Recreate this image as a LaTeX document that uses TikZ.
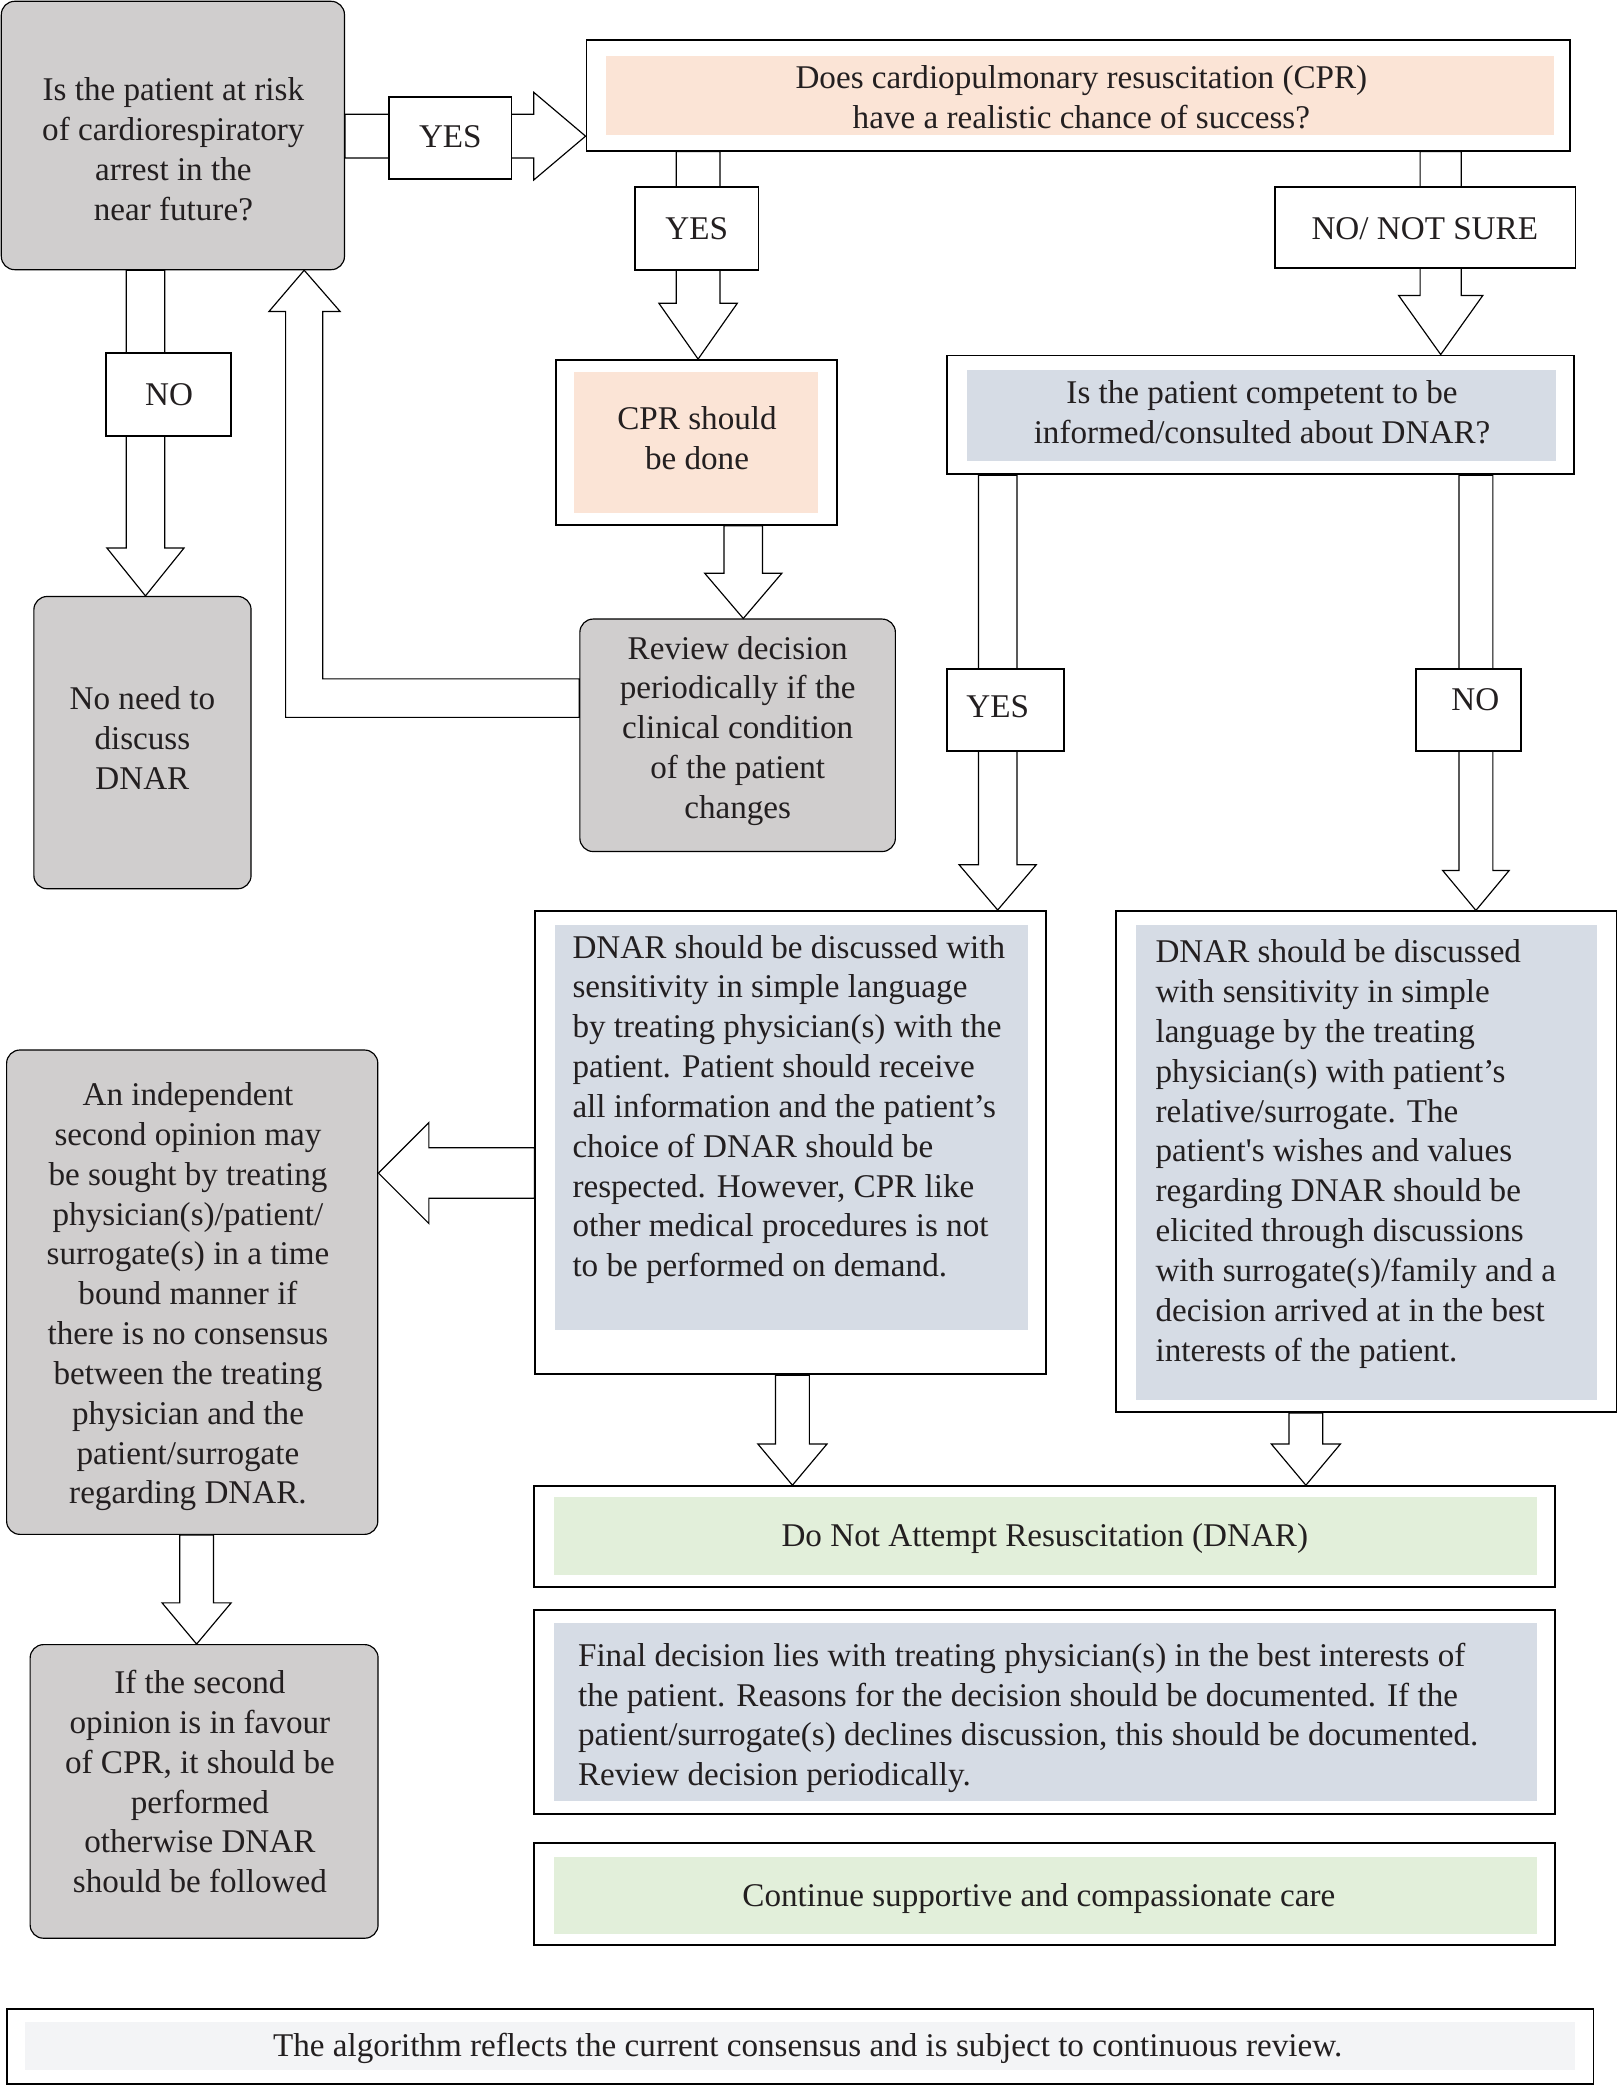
\documentclass[tikz,border=0pt]{standalone}
\usepackage{fontspec}
\setmainfont{Liberation Serif}
\newfontfamily\nomap{Liberation Serif}
\usetikzlibrary{calc,fit}
\definecolor{gfill}{HTML}{D0CECE}
\definecolor{peach}{HTML}{FBE4D6}
\definecolor{bluegray}{HTML}{D6DCE5}
\definecolor{lgreen}{HTML}{E2EFDA}
\definecolor{lnote}{HTML}{F3F4F6}
\definecolor{ink}{HTML}{231F20}
% vertical block arrow: x, from, to, shaft half width, head half width, head length
\newcommand\vblk[6]{%
  \draw[blk] (#1-#4,0 |- #2) -- ($(#1-#4,0 |- #3)+(0,-#6)$) -- ($(#1-#5,0 |- #3)+(0,-#6)$) -- (#1,0 |- #3) -- ($(#1+#5,0 |- #3)+(0,-#6)$) -- ($(#1+#4,0 |- #3)+(0,-#6)$) -- (#1+#4,0 |- #2) -- cycle;}
% horizontal block arrow: y, from, to, shaft half width, head half width, signed head offset
\newcommand\hblk[6]{%
  \draw[blk] (#2 |- 0,#1-#4) -- ($(#3 |- 0,#1-#4)+(#6,0)$) -- ($(#3 |- 0,#1-#5)+(#6,0)$) -- (#3 |- 0,#1) -- ($(#3 |- 0,#1+#5)+(#6,0)$) -- ($(#3 |- 0,#1+#4)+(#6,0)$) -- (#2 |- 0,#1+#4) -- cycle;}
\begin{document}
\begin{tikzpicture}[x=0.02cm,y=-0.02cm,
  frame/.style={draw=black, line width=0.8pt, fill=white, inner sep=0pt},
  gbox/.style={draw=black, line width=0.5pt, fill=gfill, rounded corners=0.2cm, inner sep=0pt},
  infill/.style={inner sep=0pt, draw=none},
  lbl/.style={draw=black, line width=0.8pt, fill=white, inner sep=0pt},
  blk/.style={draw=black, line width=0.5pt, fill=white, line join=miter},
  txt/.style={font=\fontsize{14.2pt}{17.07pt}\selectfont, text=ink, inner sep=0pt, align=center,
    execute at begin node=\strut, execute at end node=\strut},
  ltxt/.style={txt, align=left, anchor=west}]
\useasboundingbox (0,0) rectangle (1218,1569.5);

% ---- main boxes ----
\node[gbox, fit={(1,1) (259.3,203)}] (q1) {};
\node[frame, fit={(441.5,30) (1182,113.4)}] (cpr) {};
\node[infill, fill=peach, fit={(456,42) (1170,101.6)}] (cprin) {};
\node[frame, fit={(418.5,271) (630,395)}] (cprdone) {};
\node[infill, fill=peach, fit={(432,280) (616,386)}] (cprdonein) {};
\node[frame, fit={(713,267.6) (1185,357)}] (comp) {};
\node[infill, fill=bluegray, fit={(728,278.5) (1171,347)}] (compin) {};
\node[gbox, fit={(25.5,449) (189,669)}] (noneed) {};
\node[gbox, fit={(436.5,466) (674,641)}] (review) {};
\node[frame, fit={(403,685.7) (787.5,1034.5)}] (dnarL) {};
\node[infill, fill=bluegray, fit={(418,696.2) (773.5,1000.8)}] (dnarLin) {};
\node[frame, fit={(840,686) (1216.8,1063)}] (dnarR) {};
\node[infill, fill=bluegray, fit={(855,696.5) (1202,1053.5)}] (dnarRin) {};
\node[gbox, fit={(5,790.4) (284.4,1155)}] (opinion) {};
\node[gbox, fit={(22.7,1238) (284.6,1459)}] (iffav) {};
\node[frame, fit={(402,1118.7) (1170.7,1194.8)}] (dnar) {};
\node[infill, fill=lgreen, fit={(416.7,1127) (1157,1185.4)}] (dnarin) {};
\node[frame, fit={(402,1212) (1170.4,1365.2)}] (final) {};
\node[infill, fill=bluegray, fit={(416.7,1221.4) (1157,1355.8)}] (finalin) {};
\node[frame, fit={(402,1387) (1170.4,1464)}] (cont) {};
\node[infill, fill=lgreen, fit={(416.7,1397.7) (1157,1455.5)}] (contin) {};
\node[frame, fit={(5,1512) (1199.5,1568.5)}] (note) {};
\node[infill, fill=lnote, fit={(18.8,1522) (1185.7,1558.5)}] (notein) {};

% ---- block arrows ----
\hblk{102.5}{q1.east}{cpr.west}{16.5}{33}{-39}
\vblk{525.5}{cpr.south}{cprdone.north}{16.5}{29.5}{42}
\vblk{1084.5}{cpr.south}{comp.north}{15.5}{31.7}{44.5}
\vblk{559.5}{cprdone.south}{review.north}{14.5}{29}{34}
\vblk{109.5}{q1.south}{noneed.north}{14.5}{29}{36}
\vblk{751}{comp.south}{dnarL.north}{14.5}{29}{34}
\vblk{1111}{comp.south}{dnarR.north}{12.75}{25}{30}
\hblk{883}{dnarL.west}{opinion.east}{19}{38}{38}
\vblk{148}{opinion.south}{iffav.north}{12.7}{26}{31}
\vblk{596.5}{dnarL.south}{dnar.north}{12.75}{26}{31}
\vblk{983}{dnarR.south}{dnar.north}{12.75}{26}{31}
\draw[blk] (review.west |- 0,511) -- (243,511) -- ($(243,0 |- q1.south)+(0,31)$) -- ($(256,0 |- q1.south)+(0,31)$) -- (229,0 |- q1.south) -- ($(202.5,0 |- q1.south)+(0,31)$) -- ($(215,0 |- q1.south)+(0,31)$) -- (215,540) -- (review.west |- 0,540) -- cycle;

% ---- label boxes ----
\node[lbl, fit={(293,73) (385,134.5)}] (yes1) {};
\node[lbl, fit={(478,141) (571,203)}] (yes2) {};
\node[lbl, fit={(960,141) (1186,202)}] (nns) {};
\node[lbl, fit={(80,266) (174,328)}] (no1) {};
\node[lbl, fit={(713,503.6) (801,565)}] (yes3) {};
\node[lbl, fit={(1066,503.6) (1145,565)}] (no2) {};

% ---- texts ----
\node[txt] (yes1t) at (339,105) {YES};
\node[txt] (yes2t) at (524.5,174) {YES};
\node[txt] (nnst) at (1072.5,174) {NO/ NOT SURE};
\node[txt] (no1t) at (127.3,299) {NO};
\node[txt] (yes3t) at (751,534) {YES};
\node[txt] (no2t) at (1110.5,528.5) {NO};

\node[txt] (q1t) at (130.5,116.5) {Is the patient at risk\\of cardiorespiratory\\arrest in the\\near future?};
\node[txt] (cprt) at (814,77.5) {Does cardiopulmonary resuscitation (CPR)\\have a realistic chance of success?};
\node[txt] (cprdonet) at (524.7,334.5) {CPR should\\be done};
\node[txt] (compt) at (950,314.5) {Is the patient competent to be\\informed/consulted about DNAR?};
\node[txt] (noneedt) at (107.2,560) {No need to\\discuss\\DNAR};
\node[txt] (reviewt) at (555.3,552) {Review decision\\periodically if the\\clinical condition\\of the patient\\changes};
\node[ltxt] (dnarLt) at (430.6,837) {DNAR should be discussed with\\sensitivity in simple language\\by treating physician(s) with the\\patient. Patient should receive\\all information and the patient’s\\choice of DNAR should be\\respected. However, CPR like\\other medical procedures is not\\to be performed on demand.};
\node[ltxt] (dnarRt) at (869.5,870.5) {DNAR should be discussed\\with sensitivity in simple\\language by the treating\\physician(s) with patient’s\\relative/surrogate. The\\patient{\nomap'}s wishes and values\\regarding DNAR should be\\elicited through discussions\\with surrogate(s)/family and a\\decision arrived at in the best\\interests of the patient.};
\node[txt] (opiniont) at (141.5,978) {An independent\\second opinion may\\be sought by treating\\physician(s)/patient/\\surrogate(s) in a time\\bound manner if\\there is no consensus\\between the treating\\physician and the\\patient/surrogate\\regarding DNAR.};
\node[txt] (iffavt) at (150.5,1345.5) {If the second\\opinion is in favour\\of CPR, it should be\\performed\\otherwise DNAR\\should be followed};
\node[txt] (dnart) at (786.5,1158) {Do Not Attempt Resuscitation (DNAR)};
\node[ltxt] (finalt) at (434.8,1295) {Final decision lies with treating physician(s) in the best interests of\\the patient. Reasons for the decision should be documented. If the\\patient/surrogate(s) declines discussion, this should be documented.\\Review decision periodically.};
\node[txt] (contt) at (782,1429) {Continue supportive and compassionate care};
\node[txt] (notet) at (608,1542) {The algorithm reflects the current consensus and is subject to continuous review.};
\end{tikzpicture}
\end{document}
